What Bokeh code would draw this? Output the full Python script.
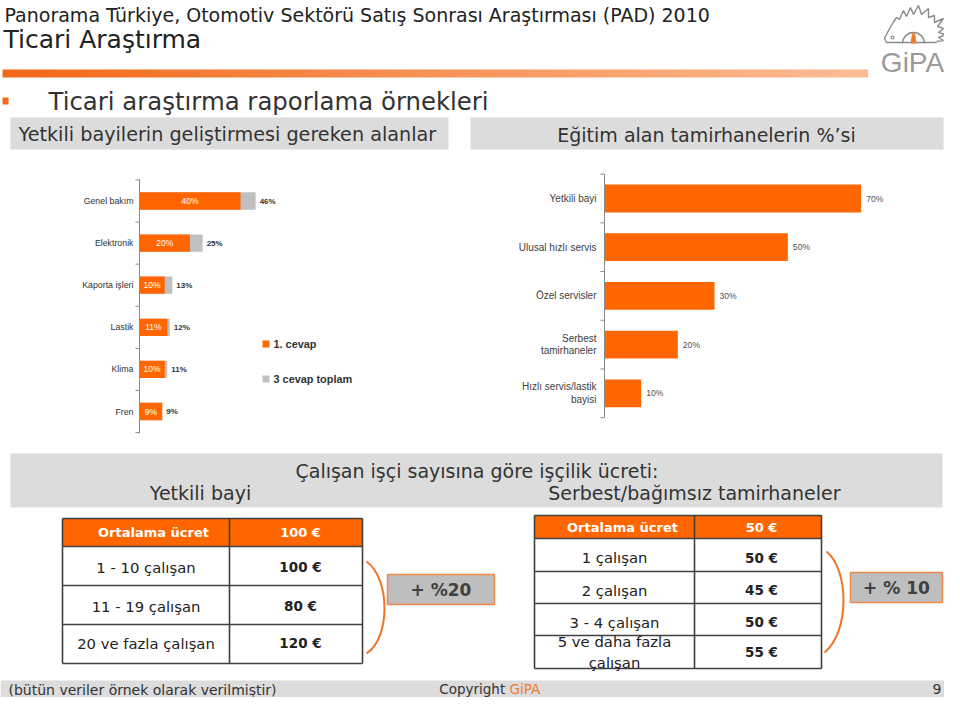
from bokeh.plotting import figure
from bokeh.models import Range1d
from bokeh.embed import file_html
from bokeh.resources import INLINE
from bokeh.core.properties import value

# ---------------- data ----------------
left_categories = ["Genel bakım", "Elektronik", "Kaporta işleri", "Lastik", "Klima", "Fren"]
left_first = [40, 20, 10, 11, 10, 9]
left_total = [46, 25, 13, 12, 11, 9]
legend_labels = ["1. cevap", "3 cevap toplam"]

right_categories = ["Yetkili bayi", "Ulusal hızlı servis", "Özel servisler",
                    "Serbest\ntamirhaneler", "Hızlı servis/lastik\nbayisi"]
right_values = [70, 50, 30, 20, 10]

dealer_header = ["Ortalama ücret", "100 €"]
dealer_rows = ["1 - 10 çalışan", "11 - 19 çalışan", "20 ve fazla çalışan"]
dealer_wages = ["100 €", "80 €", "120 €"]
dealer_spread = "+ %20"

indep_header = ["Ortalama ücret", "50 €"]
indep_rows = ["1 çalışan", "2 çalışan", "3 - 4 çalışan", "5 ve daha fazla\nçalışan"]
indep_wages = ["50 €", "45 €", "50 €", "55 €"]
indep_spread = "+ % 10"

ORANGE = "#FF6600"
GREY_BAR = "#C0C0C0"
DARK = "#333333"
VERDANA = "DejaVu Sans"
ARIAL = "Liberation Sans"

# ---------------- canvas ----------------
W, H = 944, 697
p = figure(width=W, height=H, x_range=Range1d(0, W), y_range=Range1d(H, 0),
           output_backend="svg", toolbar_location=None, min_border=0,
           x_axis_location=None, y_axis_location=None)
p.grid.visible = False
p.outline_line_color = None
p.background_fill_color = "white"


def lin_range(v0, px0, k, lo, hi):
    return Range1d(start=v0 + (lo - px0) / k, end=v0 + (hi - px0) / k)


p.extra_x_ranges = {"lx": lin_range(0, 139, 2.525, 0, W),
                    "rx": lin_range(0, 604, 3.667, 0, W)}
p.extra_y_ranges = {"ly": lin_range(0, 200.5, 42.1, H, 0),
                    "ry": lin_range(0, 198, 48.7, H, 0)}


def txt(x, y, s, size, color=DARK, font=VERDANA, align="left", baseline="middle", style="normal"):
    p.text(x=[x], y=[y], text=[s], text_font=value(font), text_font_size=f"{size}px",
           text_color=color, text_align=align, text_baseline=baseline, text_font_style=style)


# ---------------- header ----------------
txt(4, 14, "Panorama Türkiye, Otomotiv Sektörü Satış Sonrası Araştırması (PAD) 2010", 19,
    color="#222222")
txt(3, 38.5, "Ticari Araştırma", 25, color="#222222")

# gradient rule
n = 90
x_start, x_end = 2, 867
c0, c1 = (242, 104, 24), (251, 188, 148)
seg = (x_end - x_start) / n
lefts, rights, cols = [], [], []
for i in range(n):
    t = i / (n - 1)
    c = tuple(int(round(c0[j] + (c1[j] - c0[j]) * t)) for j in range(3))
    lefts.append(x_start + i * seg)
    rights.append(x_start + (i + 1) * seg + 0.6)
    cols.append("#%02x%02x%02x" % c)
p.quad(left=lefts, right=rights, top=69, bottom=77, fill_color=cols, line_color=None)

# logo
lg = "#8a8a8a"
p.line(x=[892, 896, 899, 903, 906, 910, 913, 918, 921, 928, 928, 934, 934, 943, 937, 943, 938, 945, 938, 943, 936],
       y=[23, 17, 19, 10, 16, 7, 14, 5, 14, 8, 17, 15, 22, 18, 26, 28, 32, 34, 37, 40, 41],
       line_color=lg, line_width=1.4)
p.line(x=[892, 888, 884, 886, 936], y=[23, 30, 38, 42, 42], line_color=lg, line_width=1.4)
p.circle(x=[892], y=[37], radius=1.5, fill_color=None, line_color=lg, line_width=1.2)
p.arc(x=[913], y=[43], radius=11, start_angle=0, end_angle=3.1416, direction="anticlock",
      line_color=lg, line_width=1.4)
p.patch(x=[911.5, 914.5, 916, 910], y=[33, 33, 43, 43], fill_color="#F07A2A", line_color=None)
txt(912, 62, "GiPA", 28, color="#9a9a9a", font=ARIAL, align="center")

# section title
p.quad(left=[2], right=[8], top=[97], bottom=[104], fill_color="#F26B1F", line_color=None)
txt(48, 101, "Ticari araştırma raporlama örnekleri", 24.4, color="#333333")

# grey heading bands
p.quad(left=[10, 470], right=[448, 943], top=[117, 117], bottom=[149, 149],
       fill_color="#DCDCDC", line_color=None)
txt(18, 134, "Yetkili bayilerin geliştirmesi gereken alanlar", 19.2, color="#333333")
txt(706, 134, "Eğitim alan tamirhanelerin %’si", 19, color="#333333", align="center")

# ---------------- left chart ----------------
lidx = list(range(len(left_categories)))
p.hbar(y=lidx, left=0, right=left_total, height=0.41, fill_color=GREY_BAR, line_color=None,
       x_range_name="lx", y_range_name="ly")
p.hbar(y=lidx, left=0, right=left_first, height=0.41, fill_color=ORANGE, line_color=None,
       x_range_name="lx", y_range_name="ly")
p.segment(x0=[0], y0=[-0.52], x1=[0], y1=[len(left_categories) - 0.48], line_color="#8a8a8a",
          line_width=1, x_range_name="lx", y_range_name="ly")
lt = [i - 0.5 for i in range(len(left_categories) + 1)]
p.segment(x0=[-1.6] * len(lt), y0=lt, x1=[0] * len(lt), y1=lt, line_color="#8a8a8a",
          line_width=1, x_range_name="lx", y_range_name="ly")
p.text(x=[0] * len(lidx), y=lidx, text=left_categories, x_offset=-6, text_align="right",
       text_baseline="middle", text_font=value(ARIAL), text_font_size="8.8px", text_color="#333333",
       x_range_name="lx", y_range_name="ly")
p.text(x=[v / 2 for v in left_first], y=lidx, text=[f"{v}%" for v in left_first],
       text_align="center", text_baseline="middle", text_font=value(ARIAL), text_font_size="8.5px",
       text_color="white", x_range_name="lx", y_range_name="ly")
p.text(x=left_total, y=lidx, text=[f"{v}%" for v in left_total], x_offset=4,
       text_align="left", text_baseline="middle", text_font=value(ARIAL), text_font_size="8px",
       text_font_style="bold", text_color="#333333", x_range_name="lx", y_range_name="ly")

# legend
p.quad(left=[262, 262], right=[269, 269], top=[340, 375], bottom=[347, 382],
       fill_color=[ORANGE, GREY_BAR], line_color=None)
p.text(x=[273, 273], y=[343.5, 378.5], text=legend_labels, text_align="left", text_baseline="middle",
       text_font=value(ARIAL), text_font_size="10.9px", text_font_style="bold", text_color="#333333")

# ---------------- right chart ----------------
ridx = list(range(len(right_categories)))
p.hbar(y=ridx, left=0, right=right_values, height=0.57, fill_color=ORANGE, line_color=None,
       x_range_name="rx", y_range_name="ry")
p.segment(x0=[0], y0=[-0.5], x1=[0], y1=[len(right_categories) - 0.5], line_color="#8a8a8a",
          line_width=1, x_range_name="rx", y_range_name="ry")
rt = [i - 0.5 for i in range(len(right_categories) + 1)]
p.segment(x0=[-1.1] * len(rt), y0=rt, x1=[0] * len(rt), y1=rt, line_color="#8a8a8a",
          line_width=1, x_range_name="rx", y_range_name="ry")
p.text(x=[0] * len(ridx), y=ridx, text=right_categories, x_offset=-8, text_align="right",
       text_baseline="middle", text_font=value(ARIAL), text_font_size="10px", text_color="#404040",
       text_line_height=1.15, x_range_name="rx", y_range_name="ry")
p.text(x=right_values, y=ridx, text=[f"{v}%" for v in right_values], x_offset=5,
       text_align="left", text_baseline="middle", text_font=value(ARIAL), text_font_size="8.6px",
       text_color="#505050", x_range_name="rx", y_range_name="ry")

# ---------------- bottom section ----------------
p.quad(left=[10], right=[942], top=[453], bottom=[507], fill_color="#DCDCDC", line_color=None)
txt(295, 470, "Çalışan işçi sayısına göre işçilik ücreti:", 19, color="#333333")
txt(200, 492, "Yetkili bayi", 19, color="#333333", align="center")
txt(840, 492, "Serbest/bağımsız tamirhaneler", 19, color="#333333", align="right")


def table(xs, ys, header, rows, vals, lab_cx, val_cx, ydel, font_size):
    p.quad(left=[xs[0]], right=[xs[-1]], top=[ys[0]], bottom=[ys[1]], fill_color=ORANGE, line_color=None)
    p.segment(x0=[xs[0]] * len(ys), y0=ys, x1=[xs[-1]] * len(ys), y1=ys, line_color="#404040", line_width=1.6)
    p.segment(x0=xs, y0=[ys[0]] * len(xs), x1=xs, y1=[ys[-1]] * len(xs), line_color="#404040", line_width=1.6)
    hy = (ys[0] + ys[1]) / 2
    p.text(x=[lab_cx, val_cx], y=[hy, hy], text=header, text_align="center", text_baseline="middle",
           text_font=value(VERDANA), text_font_size="13px", text_font_style="bold", text_color="white")
    cy = [(ys[i + 1] + ys[i + 2]) / 2 + ydel[i] for i in range(len(rows))]
    p.text(x=[xs[0] + (xs[1] - xs[0]) / 2] * len(rows), y=cy, text=rows, text_align="center",
           text_baseline="middle", text_font=value(VERDANA), text_font_size=font_size,
           text_color="#222222", text_line_height=1.2)
    p.text(x=[val_cx] * len(vals), y=cy, text=vals, text_align="center", text_baseline="middle",
           text_font=value(VERDANA), text_font_size="13.5px", text_font_style="bold", text_color="#222222")


table([62, 229, 362], [518, 546, 585, 624, 663], dealer_header, dealer_rows, dealer_wages,
      153, 300, [1, 1, -1], "14.8px")
table([534, 694, 821], [515, 538, 571, 603, 635, 668], indep_header, indep_rows, indep_wages,
      622, 761, [2.5, 2.5, 2.5, 0], "14.8px")

# brackets
p.bezier(x0=[366, 826], y0=[561, 551], x1=[366, 824], y1=[653, 652],
         cx0=[390, 849], cy0=[578, 570], cx1=[390, 849], cy1=[638, 632],
         line_color="#EE7428", line_width=2)

# spread boxes
p.quad(left=[387, 850], right=[494, 942], top=[574, 572], bottom=[604, 602],
       fill_color="#BEBEBE", line_color="#F08848", line_width=1.5)
p.text(x=[440.5, 896], y=[589, 587], text=[dealer_spread, indep_spread], text_align="center",
       text_baseline="middle", text_font=value(VERDANA), text_font_size="17px", text_font_style="bold",
       text_color="#404040")

# ---------------- footer ----------------
p.quad(left=[0], right=[944], top=[680], bottom=[697], fill_color="#DCDCDC", line_color=None)
txt(8, 689, "(bütün veriler örnek olarak verilmiştir)", 14, color="#333333")
txt(509, 688, "Copyright ", 13.5, color="#333333", align="right")
txt(509, 688, "GiPA", 13.5, color="#F07A2A", align="left")
txt(941, 688, "9", 14, color="#333333", align="right")

open("out.html", "w").write(file_html(p, INLINE))
